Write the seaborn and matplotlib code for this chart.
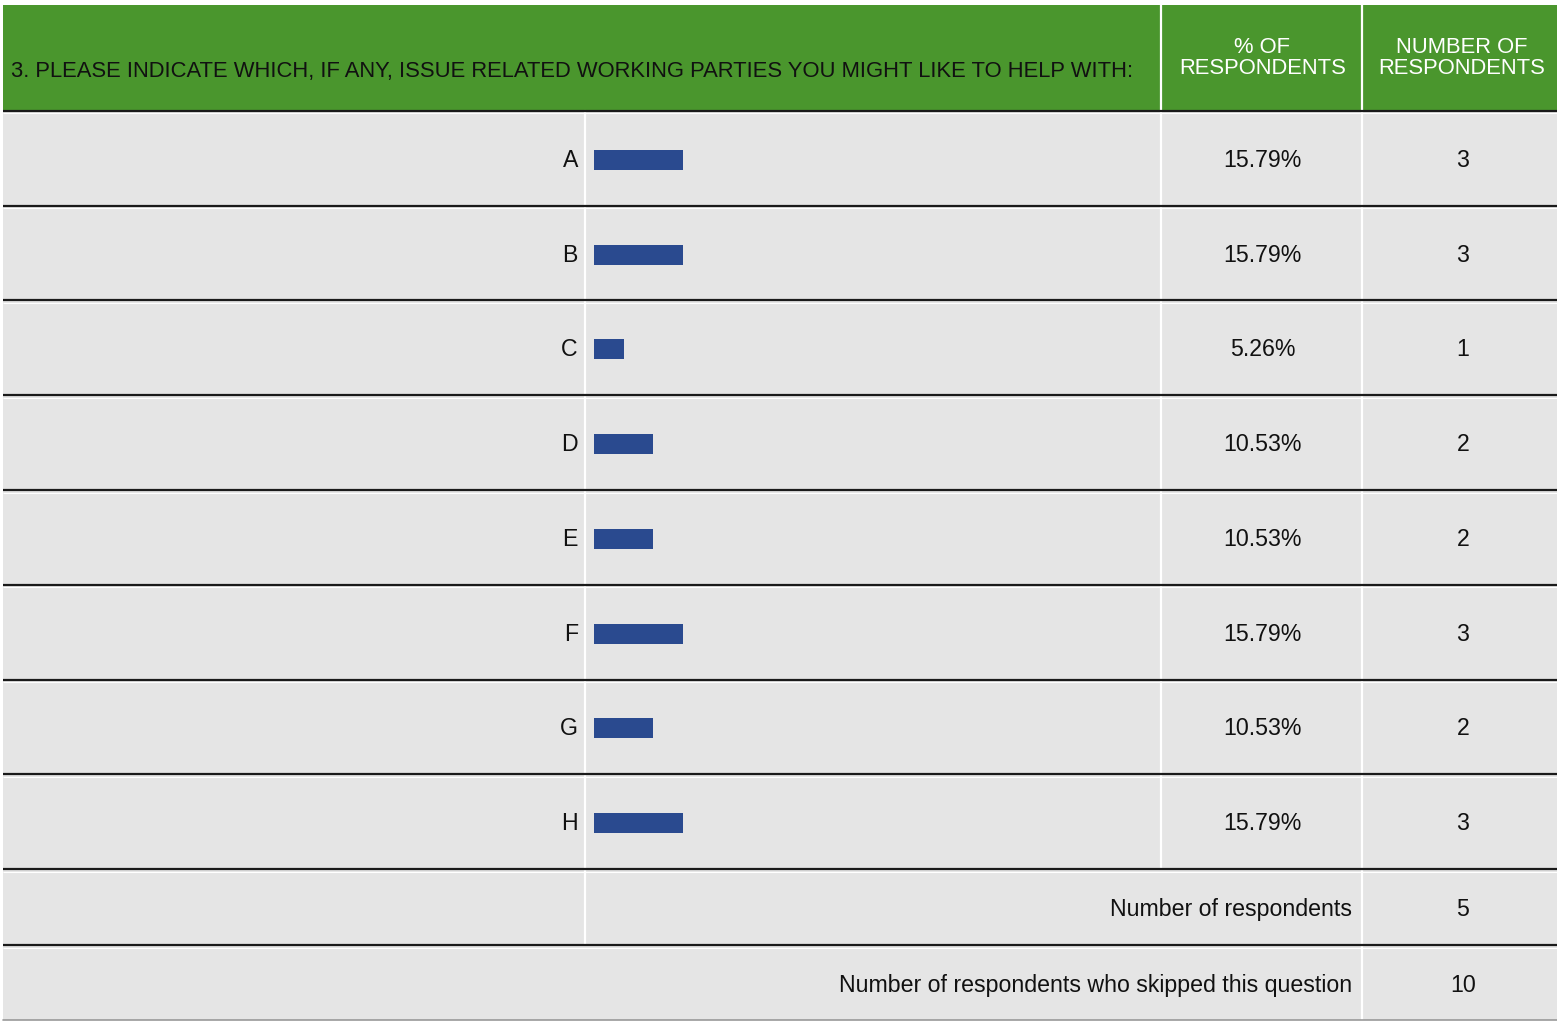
import matplotlib
matplotlib.use("Agg")
import matplotlib.pyplot as plt
import seaborn as sns
import pandas as pd
from matplotlib.patches import Rectangle

# ---- data ----
question = "3. PLEASE INDICATE WHICH, IF ANY, ISSUE RELATED WORKING PARTIES YOU MIGHT LIKE TO HELP WITH:"
col_pct_title = "% OF\nRESPONDENTS"
col_num_title = "NUMBER OF\nRESPONDENTS"
categories = ["A", "B", "C", "D", "E", "F", "G", "H"]
pct_values = [15.79, 15.79, 5.26, 10.53, 10.53, 15.79, 10.53, 15.79]
pct_labels = ["15.79%", "15.79%", "5.26%", "10.53%", "10.53%", "15.79%", "10.53%", "15.79%"]
counts = [3, 3, 1, 2, 2, 3, 2, 3]
summary_labels = ["Number of respondents", "Number of respondents who skipped this question"]
summary_values = [5, 10]

sns.set_theme(style="white")
plt.rcParams["font.family"] = ["Liberation Sans", "DejaVu Sans"]

W, H = 1557, 1021
fig = plt.figure(figsize=(W / 100, H / 100), dpi=100)
fig.patch.set_facecolor("white")

bg = fig.add_axes([0, 0, 1, 1])
bg.set_xlim(0, W)
bg.set_ylim(H, 0)
bg.axis("off")

GREEN = "#4a962d"
GRAY = "#e5e5e5"
BLUE = "#2a4a8f"
TXT = "#111111"
FS_HEAD = 15.8
FS_BODY = 16.7

left, right = 3, W
head_top, head_bot = 5, 111
row_h = 94.75
n = len(categories)
rows_bot = head_bot + n * row_h
sum_bounds = [rows_bot, 945, 1020]
col1, col2, col3 = 585, 1161, 1362
xc_pct = (col2 + col3) / 2 + 1
xc_num = 1463

# header
bg.add_patch(Rectangle((left, head_top), right - left, head_bot - head_top, color=GREEN, lw=0))
for xv in (col2, col3):
    bg.plot([xv, xv], [head_top, head_bot], color="white", lw=1.6)
# body background
bg.add_patch(Rectangle((left, head_bot), right - left, sum_bounds[-1] - head_bot, color=GRAY, lw=0))
# vertical separators
bg.plot([col1, col1], [head_bot, sum_bounds[1]], color="white", lw=1.6)
bg.plot([col2, col2], [head_bot, rows_bot], color="white", lw=1.6)
bg.plot([col3, col3], [head_bot, sum_bounds[-1]], color="white", lw=1.6)
# horizontal separators
ys = [head_bot + i * row_h for i in range(n + 1)] + sum_bounds[1:2]
for yv in ys:
    bg.plot([left, right], [yv, yv], color="#1a1a1a", lw=1.6, solid_capstyle="butt")
    bg.plot([left, right], [yv + 2.5, yv + 2.5], color="white", lw=0.8, solid_capstyle="butt")
bg.plot([left, right], [sum_bounds[-1], sum_bounds[-1]], color="#999999", lw=1.2)

# header texts
bg.text(11, 71, question, fontsize=FS_HEAD, color=TXT, va="center", ha="left")
bg.text(xc_pct, 58, col_pct_title, fontsize=FS_HEAD, color="white",
        va="center", ha="center", linespacing=0.95)
bg.text(xc_num - 1, 58, col_num_title, fontsize=FS_HEAD, color="white",
        va="center", ha="center", linespacing=0.95)

# row texts
for i, (cat, pl, c) in enumerate(zip(categories, pct_labels, counts)):
    yc = head_bot + (i + 0.5) * row_h + 2
    bg.text(578, yc, cat, fontsize=FS_BODY, color=TXT, ha="right", va="center")
    bg.text(xc_pct, yc, pl, fontsize=FS_BODY, color=TXT, ha="center", va="center")
    bg.text(xc_num, yc, str(c), fontsize=FS_BODY, color=TXT, ha="center", va="center")

for j, (lab, v) in enumerate(zip(summary_labels, summary_values)):
    yc = (sum_bounds[j] + sum_bounds[j + 1]) / 2 + 2.5
    bg.text(1352, yc, lab, fontsize=FS_BODY, color=TXT, ha="right", va="center")
    bg.text(xc_num, yc, str(v), fontsize=FS_BODY, color=TXT, ha="center", va="center")

# bar axes
bx0, bx1 = 594, 1158
off = 1.5
bax = fig.add_axes([bx0 / W, 1 - (rows_bot + off) / H, (bx1 - bx0) / W, (rows_bot - head_bot) / H])
bax.patch.set_alpha(0)
df = pd.DataFrame({"cat": categories, "pct": pct_values})
sns.barplot(data=df, x="pct", y="cat", orient="h", color=BLUE, saturation=1,
            width=0.21, ax=bax, linewidth=0)
bax.set_xlim(0, 100)
bax.set_ylim(n - 0.5, -0.5)
bax.axis("off")

fig.savefig("out.png", dpi=100, facecolor="white")
